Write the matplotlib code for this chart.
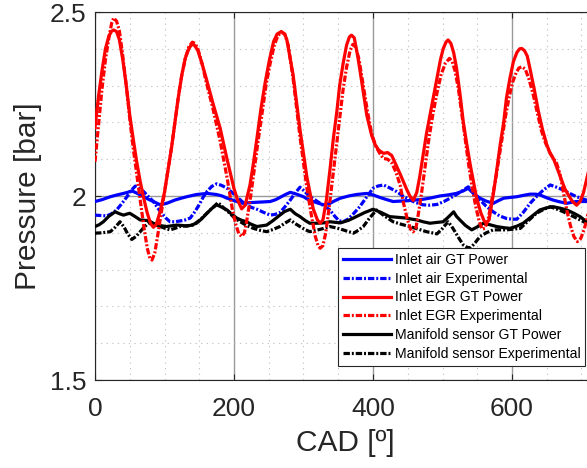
import matplotlib
matplotlib.use("Agg")
import matplotlib.pyplot as plt
from matplotlib.ticker import MultipleLocator

plt.rcParams['font.family'] = ['Liberation Sans', 'DejaVu Sans']
plt.rcParams['lines.scale_dashes'] = False

egr_gt_cad = [0,5,10,15,20,24,27,31,35,40,45,50,55,60,65,70,75,80,84,88,94,100,105,110,115,120,125,130,135,139,143,148,154,160,170,180,190,200,205,211,216,223,228,233,239,245,251,257,262,268,273,276,285,295,305,314,320,324,328,333,338,343,348,352,357,362,366,369,373,378,383,391,398,403,408,415,421,427,433,439,448,453,458,463,467,472,477,482,487,492,497,501,505,508,512,516,520,525,530,535,540,545,549,555,560,563,567,573,578,583,588,592,597,602,607,611,614,618,622,626,632,638,644,650,655,660,665,670,676,681,687,693,698,703,708,714,720]
egr_gt_p = [2.185,2.27,2.34,2.40,2.435,2.448,2.451,2.447,2.425,2.37,2.30,2.22,2.155,2.093,2.04,1.995,1.955,1.925,1.915,1.922,1.96,2.01,2.07,2.13,2.20,2.27,2.33,2.375,2.40,2.412,2.41,2.395,2.36,2.32,2.25,2.185,2.10,2.02,1.99,1.965,1.975,2.03,2.09,2.157,2.24,2.31,2.37,2.42,2.44,2.447,2.44,2.425,2.33,2.18,2.05,1.965,1.935,1.926,1.935,1.99,2.07,2.157,2.23,2.30,2.36,2.41,2.432,2.437,2.43,2.38,2.32,2.22,2.165,2.14,2.125,2.116,2.118,2.11,2.085,2.06,2.02,2.0,1.988,2.01,2.05,2.11,2.17,2.22,2.27,2.32,2.37,2.40,2.418,2.424,2.415,2.39,2.35,2.28,2.20,2.14,2.084,2.035,1.995,1.955,1.932,1.926,1.935,2.003,2.07,2.14,2.20,2.266,2.32,2.365,2.39,2.40,2.401,2.395,2.38,2.345,2.29,2.23,2.18,2.14,2.115,2.10,2.075,2.05,2.02,2.003,1.985,1.975,1.985,2.01,2.05,2.10,2.16]

egr_exp_cad = [0,5,10,15,20,24,27,31,35,40,45,50,55,60,65,70,75,79,82,86,90,95,100,105,110,115,120,125,130,135,140,144,148,154,160,170,180,190,198,203,207,211,215,219,224,229,234,240,246,252,258,263,268,273,278,285,295,305,312,317,321,324,328,332,337,342,347,352,357,362,367,371,375,380,386,392,398,404,410,415,421,427,433,439,444,449,454,458,462,466,470,475,480,486,492,498,504,510,514,518,523,528,533,538,543,548,553,557,561,566,571,576,581,586,591,596,601,606,610,614,619,624,630,636,642,648,654,660,664,669,674,679,684,689,694,699,704,708,714,720]
egr_exp_p = [2.093,2.19,2.29,2.37,2.43,2.47,2.484,2.475,2.45,2.38,2.30,2.21,2.13,2.06,1.99,1.92,1.86,1.83,1.826,1.845,1.89,1.95,2.01,2.07,2.13,2.20,2.27,2.33,2.375,2.405,2.418,2.415,2.40,2.36,2.31,2.235,2.15,2.05,1.96,1.92,1.897,1.89,1.90,1.94,2.00,2.07,2.14,2.22,2.30,2.36,2.41,2.435,2.445,2.44,2.41,2.32,2.16,2.02,1.94,1.89,1.865,1.858,1.865,1.90,1.97,2.05,2.13,2.21,2.29,2.35,2.395,2.412,2.405,2.37,2.30,2.23,2.17,2.135,2.115,2.102,2.10,2.09,2.065,2.03,1.98,1.94,1.91,1.903,1.915,1.96,2.01,2.08,2.15,2.22,2.28,2.33,2.36,2.374,2.365,2.34,2.29,2.22,2.15,2.08,2.02,1.97,1.93,1.91,1.912,1.94,1.99,2.04,2.10,2.16,2.22,2.27,2.31,2.335,2.348,2.351,2.345,2.32,2.28,2.23,2.18,2.145,2.12,2.10,2.09,2.06,2.01,1.96,1.92,1.89,1.876,1.885,1.91,1.94,1.99,2.04]

air_gt_cad = [0,10,22,32,41,47,53,60,70,78,84,94,103,115,124,132,146,161,175,183,190,204,213,223,233,243,252,260,266,274,281,290,300,307,314,322,329,338,345,353,365,376,391,400,410,420,429,438,448,460,472,484,496,508,520,530,537,545,554,563,573,580,588,597,607,617,626,634,640,650,659,669,679,686,693,707,720]
air_gt_p = [1.985,1.99,1.998,2.003,2.007,2.01,2.014,2.008,1.998,1.99,1.985,1.976,1.98,1.989,1.994,1.998,2.004,2.007,2.004,2.0,1.994,1.985,1.98,1.982,1.983,1.984,1.985,1.99,1.996,2.004,2.01,2.005,1.998,1.99,1.985,1.98,1.976,1.98,1.987,1.994,2.0,2.004,2.007,2.003,1.996,1.99,1.985,1.986,1.987,1.989,1.991,1.995,2.0,2.003,2.007,2.014,2.021,2.006,1.994,1.986,1.98,1.987,1.994,1.996,1.998,2.002,2.005,2.005,2.003,1.995,1.989,1.984,1.98,1.983,1.985,1.985,1.986]

air_exp_cad = [0,8,17,24,31,38,46,52,58,64,70,77,84,90,96,102,108,115,122,130,137,144,151,156,161,168,175,182,190,197,204,211,218,225,233,242,252,259,266,273,281,288,295,302,309,317,324,331,338,345,351,357,364,372,381,390,400,407,415,424,434,443,453,462,472,482,492,502,511,520,530,537,545,554,563,573,582,592,600,607,616,626,636,645,655,664,674,683,693,707,720]
air_exp_p = [1.948,1.947,1.946,1.952,1.962,1.978,1.998,2.015,2.027,2.02,2.012,1.998,1.985,1.968,1.953,1.94,1.93,1.93,1.932,1.935,1.94,1.958,1.98,1.998,2.012,2.026,2.033,2.029,2.021,2.01,1.998,1.986,1.976,1.969,1.964,1.956,1.948,1.95,1.955,1.97,1.989,2.008,2.024,2.012,1.998,1.989,1.98,1.971,1.962,1.945,1.933,1.93,1.937,1.952,1.971,1.995,2.021,2.027,2.03,2.022,2.012,2.0,1.989,1.982,1.976,1.975,1.977,1.985,1.994,2.004,2.016,2.025,2.008,1.989,1.972,1.957,1.946,1.939,1.937,1.937,1.955,1.98,2.0,2.016,2.03,2.024,2.016,2.007,1.998,1.989,1.984]

man_gt_cad = [0,6,12,20,29,35,41,46,50,57,65,71,77,83,89,96,103,110,118,125,132,139,146,153,161,168,175,182,190,197,204,211,218,225,233,240,247,256,266,273,281,288,295,302,309,319,329,338,348,353,365,376,388,400,412,424,436,448,456,463,472,482,491,501,508,516,520,525,533,542,550,559,568,578,588,597,607,616,628,640,650,659,669,679,689,698,707,720]
man_gt_p = [1.917,1.922,1.93,1.945,1.957,1.952,1.948,1.951,1.953,1.945,1.935,1.934,1.933,1.927,1.921,1.919,1.917,1.919,1.921,1.92,1.918,1.921,1.926,1.937,1.953,1.966,1.976,1.97,1.962,1.95,1.94,1.934,1.93,1.923,1.917,1.919,1.921,1.933,1.948,1.958,1.964,1.952,1.944,1.934,1.926,1.926,1.927,1.93,1.928,1.927,1.934,1.944,1.955,1.964,1.955,1.944,1.942,1.94,1.937,1.935,1.93,1.926,1.928,1.93,1.942,1.957,1.945,1.935,1.92,1.908,1.916,1.926,1.922,1.917,1.914,1.912,1.918,1.926,1.944,1.962,1.968,1.971,1.967,1.962,1.953,1.944,1.93,1.915]

man_exp_cad = [0,10,22,29,36,42,47,53,59,65,71,77,85,94,101,108,115,122,131,141,151,161,169,177,185,194,201,209,218,228,237,247,256,266,274,281,288,295,302,309,319,329,338,348,357,365,372,379,386,395,405,417,429,441,453,465,477,485,492,500,508,513,518,524,530,535,540,547,554,563,573,582,592,602,612,623,635,645,655,665,674,684,693,700,707,720]
man_exp_p = [1.899,1.9,1.903,1.915,1.93,1.915,1.897,1.882,1.89,1.903,1.916,1.926,1.922,1.917,1.912,1.908,1.912,1.917,1.919,1.921,1.935,1.953,1.968,1.982,1.968,1.953,1.94,1.93,1.92,1.912,1.907,1.903,1.909,1.917,1.927,1.935,1.925,1.917,1.909,1.903,1.907,1.912,1.917,1.913,1.908,1.903,1.899,1.907,1.917,1.94,1.962,1.945,1.93,1.923,1.917,1.91,1.903,1.9,1.897,1.912,1.93,1.918,1.903,1.884,1.867,1.861,1.858,1.873,1.89,1.9,1.908,1.908,1.908,1.91,1.912,1.932,1.953,1.963,1.971,1.964,1.957,1.948,1.94,1.933,1.926,1.915]

labels = ['Inlet air GT Power', 'Inlet air Experimental', 'Inlet EGR GT Power',
          'Inlet EGR Experimental', 'Manifold sensor GT Power', 'Manifold sensor Experimental']
x_ticks = [0, 200, 400, 600]
y_ticks = [1.5, 2.0, 2.5]
y_tick_labels = ['1.5', '2', '2.5']

fig = plt.figure(figsize=(5.87, 4.68), dpi=100)
ax = fig.add_axes([95/587, 1-380/468, 500.4/587, 368/468])

lw = 2.3
dd = (4.6, 1.4, 1.4, 1.4)
ax.plot(air_gt_cad, air_gt_p, color='#0000ff', lw=lw, zorder=3, label=labels[0])
ax.plot(air_exp_cad, air_exp_p, color='#0000ff', lw=lw, dashes=dd, zorder=3, label=labels[1])
ax.plot(egr_gt_cad, egr_gt_p, color='#ff0000', lw=lw, zorder=5, label=labels[2])
ax.plot(egr_exp_cad, egr_exp_p, color='#ff0000', lw=lw, dashes=dd, zorder=5, label=labels[3])
ax.plot(man_gt_cad, man_gt_p, color='black', lw=lw, zorder=4, label=labels[4])
ax.plot(man_exp_cad, man_exp_p, color='black', lw=lw, dashes=dd, zorder=4, label=labels[5])

ax.set_xlim(0, 720)
ax.set_ylim(1.5, 2.5)
ax.set_xticks(x_ticks)
ax.set_yticks(y_ticks)
ax.set_yticklabels(y_tick_labels)
ax.xaxis.set_minor_locator(MultipleLocator(50))
ax.yaxis.set_minor_locator(MultipleLocator(0.1))
ax.grid(True, which='major', color='#999999', lw=1.0, ls='-')
ax.grid(True, which='minor', color='#c8c8c8', lw=0.8, ls=(0, (1, 3)))
ax.set_axisbelow(True)
ax.tick_params(which='major', direction='in', length=4, width=0.8, labelsize=19,
               top=True, right=True, color='#262626', labelcolor='#262626')
ax.tick_params(which='minor', length=0)
ax.tick_params(axis='x', pad=12)
ax.tick_params(axis='y', pad=6)
for s in ax.spines.values():
    s.set_color('#262626')
    s.set_linewidth(0.8)

ax.set_xlabel('CAD [º]', fontsize=21.5, color='#262626', labelpad=6)
ax.set_ylabel('Pressure [bar]', fontsize=21.5, color='#262626', labelpad=6)

leg = ax.legend(loc='upper left', bbox_to_anchor=(338/587, 1-248/468),
                bbox_transform=fig.transFigure, fontsize=10.1, frameon=True,
                fancybox=False, edgecolor='#262626', framealpha=1,
                handlelength=3.4, handletextpad=0.3, labelspacing=0.34,
                borderpad=0.35, borderaxespad=0)
leg.get_frame().set_linewidth(0.8)
leg.set_zorder(10)

fig.savefig('out.png', dpi=100)
